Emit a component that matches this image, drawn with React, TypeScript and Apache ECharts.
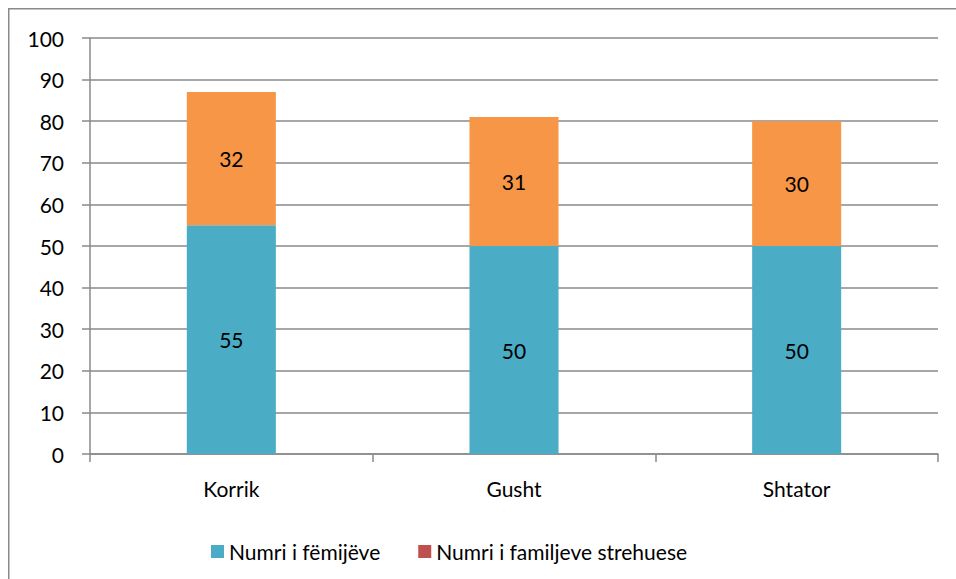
import React, { useEffect, useRef } from "react";
import * as echarts from "echarts";

const categories = ["Korrik", "Gusht", "Shtator"];
const childrenValues = [55, 50, 50];
const familyValues = [32, 31, 30];
const seriesNames = ["Numri i fëmijëve", "Numri i familjeve strehuese"];

const FONT = "Lato, 'Open Sans', sans-serif";
const FS = 21;

export default function App() {
  const ref = useRef<HTMLDivElement>(null);
  useEffect(() => {
    document.documentElement.style.overflow = "hidden";
    document.body.style.overflow = "hidden";
    document.body.style.margin = "0";
    if (!ref.current) return;
    const chart = echarts.init(ref.current, null, { renderer: "svg" });
    chart.setOption({
      animation: false,
      backgroundColor: "#ffffff",
      textStyle: { fontFamily: FONT },
      grid: { left: 82, right: 18, top: 30, bottom: 125, containLabel: false },
      graphic: [
        { type: "line", shape: { x1: 0.75, y1: 0, x2: 0.75, y2: 571 }, style: { stroke: "#8a8a8a", lineWidth: 1.5 } },
        { type: "line", shape: { x1: 0, y1: 0.75, x2: 948, y2: 0.75 }, style: { stroke: "#8a8a8a", lineWidth: 1.5 } },
      ],
      legend: {
        left: 198,
        top: 528,
        itemWidth: 13,
        itemHeight: 13,
        itemGap: 38,
        icon: "rect",
        textStyle: { fontSize: FS, color: "#000", fontFamily: FONT },
        data: [
          { name: seriesNames[0], itemStyle: { color: "#4BACC6" } },
          { name: seriesNames[1], itemStyle: { color: "#C0504D" } },
        ],
      },
      xAxis: {
        type: "category",
        data: categories,
        axisLine: { lineStyle: { color: "#8a8a8a", width: 1.5 } },
        axisTick: { show: true, alignWithLabel: false, length: 8, lineStyle: { color: "#8a8a8a", width: 1.5 } },
        axisLabel: { color: "#000", fontSize: FS, margin: 24, fontFamily: FONT },
      },
      yAxis: {
        type: "value",
        min: 0,
        max: 100,
        interval: 10,
        axisLine: { show: true, lineStyle: { color: "#8a8a8a", width: 1.5 } },
        axisTick: { show: true, length: 8, lineStyle: { color: "#8a8a8a", width: 1.5 } },
        splitLine: { lineStyle: { color: "#8a8a8a", width: 1.5 } },
        axisLabel: { color: "#000", fontSize: FS, margin: 26, fontFamily: FONT },
      },
      series: [
        {
          name: seriesNames[0],
          type: "bar",
          stack: "total",
          barWidth: "31.5%",
          data: childrenValues,
          itemStyle: { color: "#4BACC6" },
          label: { show: true, position: "inside", color: "#000", fontSize: FS, fontFamily: FONT },
        },
        {
          name: seriesNames[1],
          type: "bar",
          stack: "total",
          barWidth: "31.5%",
          data: familyValues,
          itemStyle: { color: "#F79646" },
          label: { show: true, position: "inside", color: "#000", fontSize: FS, fontFamily: FONT },
        },
      ],
    });
    return () => chart.dispose();
  }, []);
  return <div ref={ref} style={{ width: 948, height: 571, marginLeft: 8, marginTop: 8 }} />;
}
